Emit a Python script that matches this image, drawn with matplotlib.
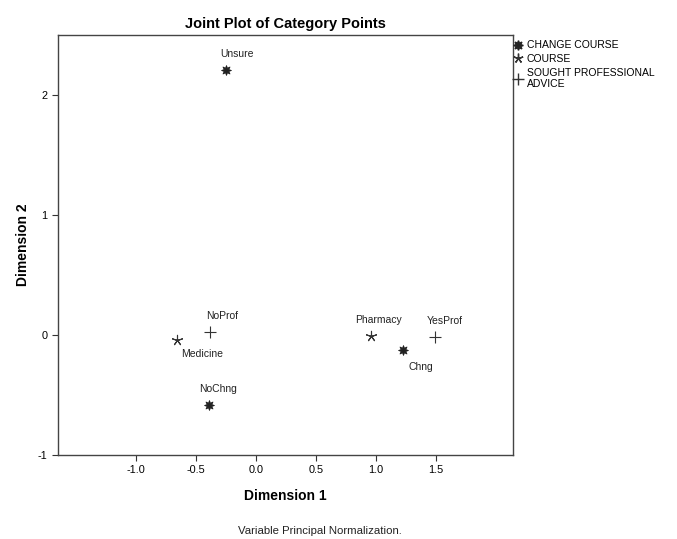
import matplotlib
matplotlib.use("Agg")
import matplotlib.pyplot as plt
from matplotlib.lines import Line2D

plt.rcParams['font.family'] = ['Liberation Sans', 'DejaVu Sans']
plt.rcParams['axes.unicode_minus'] = False

# category points (dimension 1, dimension 2)
change_labels = ["Unsure", "NoChng", "Chng"]
change_x = [-0.25, -0.39, 1.225]
change_y = [2.21, -0.58, -0.125]

course_labels = ["Medicine", "Pharmacy"]
course_x = [-0.66, 0.96]
course_y = [-0.04, -0.01]

prof_labels = ["NoProf", "YesProf"]
prof_x = [-0.383, 1.49]
prof_y = [0.025, -0.015]

x_ticks = [-1.0, -0.5, 0.0, 0.5, 1.0, 1.5]
y_ticks = [-1, 0, 1, 2]

fig = plt.figure(figsize=(6.77, 5.39), dpi=100)
ax = fig.add_axes([0.0857, 0.1558, 0.672, 0.779])

ax.scatter(change_x, change_y, marker=(8, 1, 0), s=50, c='#222222', linewidths=0.6)
ax.scatter(course_x, course_y, marker=(5, 2, 0), s=55, c='#333333', linewidths=0.8)
ax.scatter(prof_x, prof_y, marker='+', s=80, c='#333333', linewidths=0.8)

# label offsets in points
offsets = {
    "Unsure": (-4, 8),
    "NoChng": (-7, 8),
    "Chng": (4, -16),
    "Medicine": (3, -14),
    "Pharmacy": (-12, 8),
    "NoProf": (-3, 8),
    "YesProf": (-6, 8),
}
for labels, xs, ys in [(change_labels, change_x, change_y),
                       (course_labels, course_x, course_y),
                       (prof_labels, prof_x, prof_y)]:
    for lab, x, y in zip(labels, xs, ys):
        dx, dy = offsets[lab]
        ax.annotate(lab, (x, y), xytext=(dx, dy), textcoords='offset points',
                    fontsize=7.5, ha='left', va='bottom', color='#222222')

ax.set_xlim(-1.65, 2.14)
ax.set_ylim(-1, 2.5)
ax.set_xticks(x_ticks)
ax.set_xticklabels([f"{t:.1f}" for t in x_ticks])
ax.set_yticks(y_ticks)
ax.tick_params(labelsize=7.8, length=4, width=0.8, color='#333333')
for s in ax.spines.values():
    s.set_linewidth(1.0)
    s.set_color('#444444')

ax.set_title("Joint Plot of Category Points", fontsize=10.5, fontweight='bold', pad=5)
ax.set_xlabel("Dimension 1", fontsize=10, fontweight='bold', labelpad=10)
ax.set_ylabel("Dimension 2", fontsize=10, fontweight='bold', labelpad=6)

handles = [
    Line2D([], [], marker=(8, 1, 0), ls='', color='#222222', markersize=7),
    Line2D([], [], marker=(5, 2, 0), ls='', color='#333333', markersize=7),
    Line2D([], [], marker='+', ls='', color='#333333', markersize=9),
]
ax.legend(handles, ["CHANGE COURSE", "COURSE", "SOUGHT PROFESSIONAL\nADVICE"],
          loc='upper left', bbox_to_anchor=(1.003, 0.99), frameon=False,
          fontsize=7.5, handlelength=0.6, handletextpad=0.5, labelspacing=0.35,
          borderaxespad=0.0, borderpad=0.1)

fig.text(0.473, 0.01, "Variable Principal Normalization.", fontsize=8.2, ha='center', color='#222222')

fig.savefig("out.png", dpi=100)
